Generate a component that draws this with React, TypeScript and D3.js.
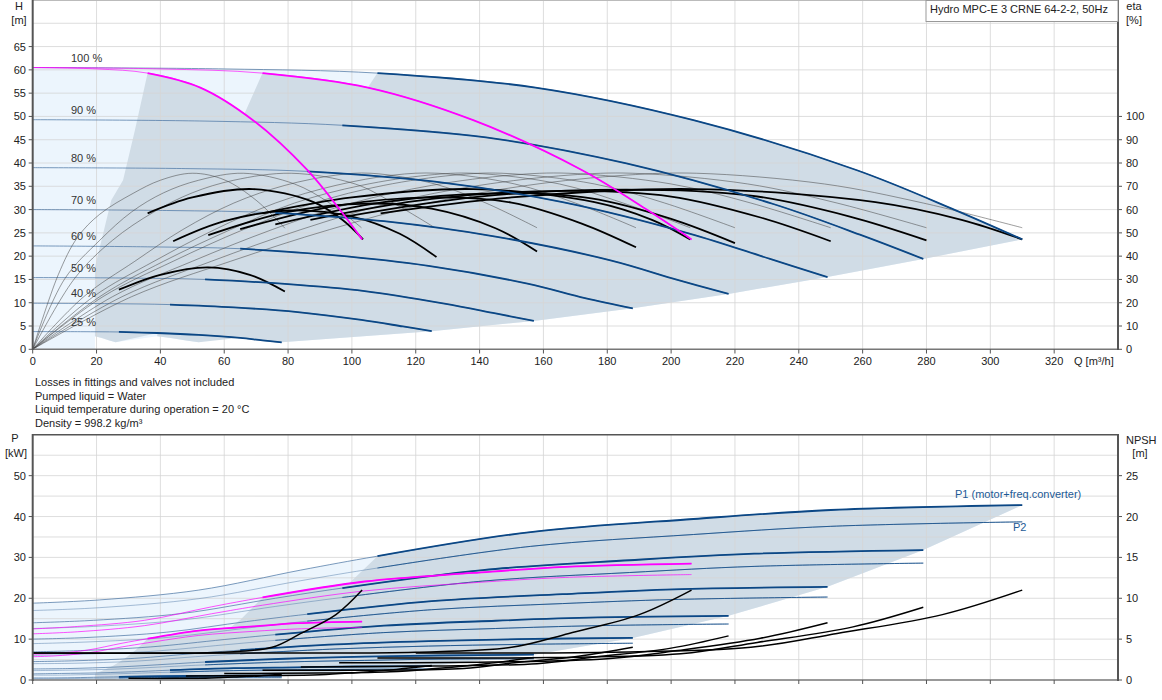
import React from 'react';
import * as d3 from 'd3';

type Pt = [number, number];

// ---------- labels / ticks ----------
const speedLabels = ['100 %', '90 %', '80 %', '70 %', '60 %', '50 %', '40 %', '25 %'];
const shutoffH = [60.5, 49.3, 39, 30, 22.2, 15.4, 9.9, 3.8];
const qMinThree = [108, 97, 86, 76, 65, 54, 43, 27];
const qTicks = [0, 20, 40, 60, 80, 100, 120, 140, 160, 180, 200, 220, 240, 260, 280, 300, 320];
const hTicks = [0, 5, 10, 15, 20, 25, 30, 35, 40, 45, 50, 55, 60, 65];
const etaTicks = [0, 10, 20, 30, 40, 50, 60, 70, 80, 90, 100];
const pTicks = [0, 10, 20, 30, 40, 50];
const npshTicks = [0, 5, 10, 15, 20, 25];
const noteLines = [
  'Losses in fittings and valves not included',
  'Pumped liquid = Water',
  'Liquid temperature during operation = 20 °C',
  'Density = 998.2 kg/m³',
];
const titleText = 'Hydro MPC-E 3 CRNE 64-2-2, 50Hz';

// ---------- QH curves (3 pumps) ----------
const head100: Pt[] = [[0, 60.5], [60, 60.2], [108, 59.3], [157.5, 56.2], [207, 49.2], [258, 38.5], [289, 29.9], [310, 23.6]];
const head90: Pt[] = [[0, 49.3], [54, 49], [97, 48.1], [142, 45.5], [186, 39.9], [232, 31.2], [260, 24.4], [279, 19.4]];
const head80: Pt[] = [[0, 39], [48, 38.8], [86, 38.2], [126, 36], [166, 31.6], [206, 24.8], [231, 19.4], [249, 15.5]];
const head70: Pt[] = [[0, 30], [42, 29.8], [76, 29.3], [110, 27.5], [145, 24.2], [181, 19.1], [202, 14.9], [218, 11.9]];
const head60: Pt[] = [[0, 22.2], [36, 22], [65, 21.6], [94, 20.2], [124, 17.9], [155, 14.1], [173, 11], [188, 8.8]];
const head50: Pt[] = [[0, 15.4], [30, 15.3], [54, 15], [79, 14.05], [104, 12.5], [129, 9.8], [145, 7.7], [157, 6.1]];
const head40: Pt[] = [[0, 9.9], [24, 9.8], [43, 9.6], [63, 9], [83, 8], [103, 6.3], [116, 4.9], [125, 3.9]];
const head25: Pt[] = [[0, 3.8], [15, 3.78], [27, 3.72], [39, 3.5], [52, 3.1], [65, 2.45], [72, 1.9], [78, 1.5]];
const headCurves = [head100, head90, head80, head70, head60, head50, head40, head25];

// 1 and 2 pumps at 100 %
const headOne: Pt[] = [[0, 60.5], [20, 60.2], [36, 59.3], [52.5, 56.2], [69, 49.2], [86, 38.5], [96.3, 29.9], [103.2, 23.6]];
const headTwo: Pt[] = [[0, 60.5], [40, 60.2], [72, 59.3], [105, 56.2], [138, 49.2], [172, 38.5], [192.6, 29.9], [206.4, 23.6]];

// operating area boundaries (H)
const areaOneLeft: Pt[] = [[19.5, 2.8], [19.5, 17.6], [24.6, 32], [28.3, 36.3], [32, 47], [36, 59.3]];
const areaOneRight: Pt[] = [[92.7, 19.1], [82.4, 15.1], [72, 11.6], [61.8, 8.5], [51.5, 5.9], [41.2, 3.8], [26, 1.5], [24, 1.9], [21.7, 2.45]];
const areaTwoLeft: Pt[] = [[39, 2.8], [39, 17.6], [49.2, 32], [56.6, 36.3], [64, 47], [72, 59.3]];
const areaTwoRight: Pt[] = [[185, 19.1], [165, 15.1], [144, 11.6], [124, 8.5], [103, 5.9], [82.4, 3.8], [52, 1.5], [48, 1.9], [43.3, 2.45]];
const areaThreeLeft: Pt[] = [[58.5, 2.95], [58.5, 17.6], [73.8, 32], [85, 36.3], [96, 47], [108, 59.3]];
const areaThreeRight: Pt[] = [[279, 19.4], [249, 15.5], [218, 11.9], [188, 8.8], [157, 6.1], [125, 3.9], [78, 1.5], [72, 1.9], [65, 2.45]];
const areaFullLeft: Pt[] = [[19.5, 0], [0, 0]];
const areaFullRight: Pt[] = [[279, 19.4], [249, 15.5], [218, 11.9], [188, 8.8], [157, 6.1], [125, 3.9], [78, 1.5], [58.5, 2.95], [52, 1.5], [39, 2.8], [26, 1.5], [19.5, 2.8]];

// ---------- efficiency curves (eta %) ----------
const etaThin79: Pt[] = [[0, 0], [8, 32], [14, 48], [21, 58], [31.5, 67], [40, 72.6], [50, 75.6], [60, 72.8], [70, 64], [79, 52]];
const etaThin103: Pt[] = [[0, 0], [10, 30.2], [21, 46.8], [31, 59], [41, 67.2], [52, 72.6], [66, 75.6], [82, 71], [93, 62.8], [103, 52.2]];
const etaThin126: Pt[] = [[0, 0], [13, 30.2], [25, 46.8], [38, 59], [50, 67.2], [63, 72.6], [81, 75.6], [101, 71], [113, 62.8], [126, 52.2]];
const etaThin158: Pt[] = [[0, 0], [16, 22.6], [32, 37.8], [47, 51.4], [63, 62.8], [79, 70.4], [95, 74.8], [106, 75.6], [126, 71], [142, 62.8], [158, 52.2]];
const etaThin189: Pt[] = [[0, 0], [19, 22.6], [38, 37.8], [57, 51.4], [76, 62.8], [95, 70.4], [113, 74.8], [127, 75.6], [151, 71], [170, 62.8], [189, 52.2]];
const etaThin206: Pt[] = [[0, 0], [21, 22.6], [41, 37.8], [62, 51.4], [82, 62.8], [103, 70.4], [124, 74.8], [138, 75.6], [165, 71], [185, 62.8], [206, 52.2]];
const etaThin220: Pt[] = [[0, 0], [22, 22.6], [44, 37.8], [66, 51.4], [88, 62.8], [110, 70.4], [132, 74.8], [147, 75.6], [176, 71], [198, 62.8], [220, 52.2]];
const etaThin250: Pt[] = [[0, 0], [25, 22.6], [50, 37.8], [75, 51.4], [100, 62.8], [125, 70.4], [150, 74.8], [168, 75.6], [200, 71], [225, 62.8], [250, 52.2]];
const etaThin280: Pt[] = [[0, 0], [28, 22.6], [56, 37.8], [84, 51.4], [112, 62.8], [140, 70.4], [168, 74.8], [188, 75.6], [224, 71], [252, 62.8], [280, 52.2]];
const etaThin310: Pt[] = [[0, 0], [31, 22.6], [62, 37.8], [93, 51.4], [124, 62.8], [155, 70.4], [186, 74.8], [208, 75.6], [248, 71], [279, 62.8], [310, 52.2]];
const etaThinCurves = [etaThin79, etaThin103, etaThin126, etaThin158, etaThin189, etaThin206, etaThin220, etaThin250, etaThin280, etaThin310];

const etaBold25: Pt[] = [[27, 25.6], [40, 32], [55, 35.2], [68, 32], [79, 24.8]];
const etaBoldOne: Pt[] = [[36, 58.4], [50, 65.2], [69, 68.8], [88, 63.2], [97, 55.6], [103.5, 47.2]];
const etaBold40: Pt[] = [[44, 46.4], [60, 55], [80, 59.6], [100, 57], [115, 49.6], [126.5, 39.6]];
const etaBold50: Pt[] = [[55, 49], [80, 59], [105, 62.6], [125, 60.4], [145, 52], [158, 42]];
const etaBold60: Pt[] = [[65, 51.6], [95, 61.6], [125, 65.2], [150, 63], [172, 54], [189, 43.8]];
const etaBoldTwo: Pt[] = [[72, 58.4], [100, 65.2], [138, 68.8], [176, 63.2], [194, 55.6], [206, 47.2]];
const etaBold70: Pt[] = [[76, 53.6], [110, 63.2], [145, 67], [175, 64.8], [200, 56], [220, 45.6]];
const etaBold80: Pt[] = [[87, 55.6], [125, 64.6], [166, 68], [200, 65.6], [228, 56.6], [250, 46.4]];
const etaBold90: Pt[] = [[98, 57], [140, 65.6], [186, 68.6], [225, 66], [256, 57], [280, 46.8]];
const etaBold100: Pt[] = [[109, 58.4], [150, 65.2], [207, 68.8], [264, 63.2], [291, 55.6], [310, 47.2]];
const etaBoldCurves = [etaBold25, etaBoldOne, etaBold40, etaBold50, etaBold60, etaBoldTwo, etaBold70, etaBold80, etaBold90, etaBold100];

// ---------- power curves (kW) ----------
const p1_100: Pt[] = [[0, 18.8], [21, 19.6], [52, 22], [84, 26.9], [108, 30.3], [156, 36.2], [207, 39.4], [250, 41.6], [310, 42.8]];
const p1_90: Pt[] = [[0, 14], [19, 14.6], [47, 16.3], [76, 20], [97, 22.5], [141, 26.9], [187, 29.3], [226, 30.9], [279, 31.8]];
const p1_80: Pt[] = [[0, 10], [17, 10.4], [42, 11.7], [67, 14.3], [86, 16.1], [125, 19.3], [166, 21], [201, 22.2], [249, 22.8]];
const p1_70: Pt[] = [[0, 6.9], [15, 7.2], [37, 8.1], [60, 9.9], [76, 11.1], [110, 13.3], [145, 14.5], [177, 15.3], [218, 15.7]];
const p1_60: Pt[] = [[0, 4.5], [13, 4.7], [32, 5.3], [51, 6.5], [65, 7.3], [95, 8.7], [124, 9.5], [152, 10], [188, 10.3]];
const p1_50: Pt[] = [[0, 2.7], [11, 2.8], [27, 3.2], [43, 3.9], [54, 4.4], [79, 5.2], [104, 5.7], [127, 6], [157, 6.2]];
const p1_40: Pt[] = [[0, 1.5], [9, 1.6], [21, 1.75], [34, 2.1], [43, 2.4], [63, 2.9], [83, 3.1], [101, 3.3], [125, 3.4]];
const p1_25: Pt[] = [[0, 0.5], [5, 0.5], [13, 0.57], [21, 0.7], [27, 0.78], [40, 0.93], [52, 1], [64, 1.07], [78, 1.1]];
const p1Curves = [p1_100, p1_90, p1_80, p1_70, p1_60, p1_50, p1_40, p1_25];

const p2_100: Pt[] = [[0, 17], [21, 17.7], [52, 19.9], [84, 24.3], [108, 27.4], [156, 32.7], [207, 35.6], [250, 37.6], [310, 38.7]];
const p2_90: Pt[] = [[0, 12.6], [19, 13.1], [47, 14.7], [76, 18], [97, 20.2], [141, 24.2], [187, 26.3], [226, 27.8], [279, 28.6]];
const p2_80: Pt[] = [[0, 8.9], [17, 9.3], [42, 10.4], [67, 12.7], [86, 14.4], [125, 17.2], [166, 18.7], [201, 19.7], [249, 20.3]];
const p2_70: Pt[] = [[0, 6], [15, 6.3], [37, 7], [60, 8.6], [76, 9.7], [110, 11.6], [145, 12.6], [177, 13.3], [218, 13.7]];
const p2_60: Pt[] = [[0, 4], [13, 4.1], [32, 4.6], [51, 5.7], [65, 6.4], [95, 7.6], [124, 8.3], [152, 8.7], [188, 9]];
const p2_50: Pt[] = [[0, 2.3], [11, 2.4], [27, 2.7], [43, 3.3], [54, 3.7], [79, 4.4], [104, 4.8], [127, 5.1], [157, 5.2]];
const p2_40: Pt[] = [[0, 1.2], [9, 1.2], [21, 1.4], [34, 1.7], [43, 1.9], [63, 2.3], [83, 2.5], [101, 2.6], [125, 2.7]];
const p2_25: Pt[] = [[0, 0.3], [5, 0.3], [13, 0.36], [21, 0.44], [27, 0.5], [40, 0.6], [52, 0.64], [64, 0.68], [78, 0.7]];
const p2Curves = [p2_100, p2_90, p2_80, p2_70, p2_60, p2_50, p2_40, p2_25];

const powerOneP1: Pt[] = [[0, 6.3], [7, 6.5], [17, 7.3], [28, 9], [36, 10.1], [52, 12.1], [69, 13.1], [83, 13.9], [103.2, 14.3]];
const powerOneP2: Pt[] = [[0, 5.7], [7, 5.9], [17, 6.6], [28, 8.1], [36, 9.1], [52, 10.9], [69, 11.9], [83, 12.5], [103.2, 12.9]];
const powerTwoP1: Pt[] = [[0, 12.5], [14, 13.1], [35, 14.6], [56, 17.9], [72, 20.2], [104, 24.1], [138, 26.2], [167, 27.7], [206.4, 28.5]];
const powerTwoP2: Pt[] = [[0, 11.3], [14, 11.8], [35, 13.3], [56, 16.2], [72, 18.3], [104, 21.8], [138, 23.8], [167, 25.1], [206.4, 25.8]];

const powAreaOneLeft: Pt[] = [[19.5, 0], [19.5, 1.6], [21.6, 2.2], [25.2, 3.5], [28.8, 5.2], [32.4, 7.4], [36, 10.1]];
const powAreaOneRight: Pt[] = [[92.7, 10.4], [82.4, 7.3], [72, 4.9], [61.8, 3.1], [51.5, 1.8], [41.2, 0.9], [26, 0.2], [26, 0]];
const powAreaTwoLeft: Pt[] = [[39, 0], [39, 3.2], [43.2, 4.4], [50.4, 6.9], [57.6, 10.3], [65, 14.7], [72, 20.2]];
const powAreaTwoRight: Pt[] = [[185, 20.8], [165, 14.6], [144, 9.8], [124, 6.2], [103, 3.6], [82.4, 1.8], [52, 0.45], [52, 0]];
const powAreaThreeLeft: Pt[] = [[58.5, 0], [58.5, 4.8], [64.8, 6.5], [75.6, 10.4], [86.4, 15.5], [97, 22.1], [108, 30.3]];
const powAreaThreeRight: Pt[] = [[279, 31.8], [249, 22.8], [218, 15.7], [188, 10.3], [157, 6.2], [125, 3.4], [78, 1.1], [78, 0]];
const powAreaFullLeft: Pt[] = [[78, 0], [0, 0]];
const powAreaFullRight: Pt[] = [[279, 31.8], [249, 22.8], [218, 15.7], [188, 10.3], [157, 6.2], [125, 3.4], [78, 1.1]];

// ---------- NPSH (m) ----------
const npshOne: Pt[] = [[0, 3.3], [40, 3.3], [60, 3.4], [75, 4], [84, 5.7], [95, 8], [103.2, 11]];
const npshTwo: Pt[] = [[0, 3.3], [80, 3.3], [120, 3.4], [150, 4], [168, 5.7], [190, 8], [206.4, 11]];
const npsh100: Pt[] = [[0, 3.3], [120, 3.3], [180, 3.4], [225, 4], [252, 5.7], [285, 8], [310, 11]];
const npsh90: Pt[] = [[0, 2.7], [108, 2.7], [162, 2.75], [203, 3.2], [227, 4.6], [257, 6.5], [279, 8.9]];
const npsh80: Pt[] = [[0, 2.1], [96, 2.1], [144, 2.2], [180, 2.6], [202, 3.6], [228, 5.1], [249, 7]];
const npsh70: Pt[] = [[0, 1.6], [84, 1.6], [126, 1.7], [158, 2], [176, 2.8], [200, 3.9], [218, 5.4]];
const npsh60: Pt[] = [[0, 1.2], [72, 1.2], [108, 1.2], [135, 1.4], [151, 2.1], [171, 2.9], [188, 4]];
const npsh50: Pt[] = [[0, 0.8], [60, 0.8], [90, 0.85], [112, 1], [126, 1.4], [142, 2], [157, 2.75]];
const npsh40: Pt[] = [[0, 0.5], [48, 0.5], [72, 0.55], [90, 0.64], [101, 0.9], [114, 1.3], [125, 1.76]];
const npsh25: Pt[] = [[0, 0.2], [30, 0.2], [45, 0.2], [56, 0.25], [63, 0.36], [71, 0.5], [78, 0.7]];
const npshCurves = [npsh100, npsh90, npsh80, npsh70, npsh60, npsh50, npsh40, npsh25];

// ---------- scales ----------
const W = 1162, Hh = 700;
const X0 = 32.7, X1 = 1118;
const x = d3.scaleLinear().domain([0, 340]).range([X0, X1]);
const yH = d3.scaleLinear().domain([0, 75]).range([349.3, 0]);
const yE = d3.scaleLinear().domain([0, 150]).range([349.3, 0]);
const yP = d3.scaleLinear().domain([0, 60]).range([680, 434.8]);
const yN = d3.scaleLinear().domain([0, 30]).range([680, 434.8]);

const FONT = 'Liberation Sans, Arial, Helvetica, sans-serif';
const DARK_BLUE = '#0b4785';
const THIN_BLUE = '#4f78a6';
const MAGENTA = '#ff00ff';
const AREA_DARK = '#d0dce6';
const AREA_LIGHT = '#ecf5fd';
const GRID = '#d6d6d6';

const curveGen = (ys: d3.ScaleLinear<number, number>) =>
  d3.line<Pt>().x(d => x(d[0])).y(d => ys(d[1])).curve(d3.curveCatmullRom.alpha(0.5));
const linGen = (ys: d3.ScaleLinear<number, number>) =>
  d3.line<Pt>().x(d => x(d[0])).y(d => ys(d[1]));

const area = (ys: d3.ScaleLinear<number, number>, left: Pt[], top: Pt[], right: Pt[]) => {
  const l = linGen(ys)(left) as string;
  const t = (curveGen(ys)(top) as string).replace(/^M/, 'L');
  const r = (linGen(ys)(right) as string).replace(/^M/, 'L');
  return l + t + r + 'Z';
};
const from = (pts: Pt[], q: number) => pts.filter(p => p[0] >= q - 0.01);

export default function App() {
  const lH = curveGen(yH);
  const lE = curveGen(yE);
  const lP = curveGen(yP);
  const lN = curveGen(yN);
  const txt = { fontFamily: FONT, fontSize: 11, fill: '#222' } as const;

  return (
    <svg width={W} height={Hh} style={{ position: 'absolute', left: 0, top: 0, background: '#fff' }}>
      <defs>
        <clipPath id="clipTop"><rect x={X0} y={0} width={X1 - X0} height={349.3} /></clipPath>
        <clipPath id="clipBot"><rect x={X0} y={434.8} width={X1 - X0} height={680 - 434.8} /></clipPath>
      </defs>

      {/* ================= TOP CHART ================= */}
      <g clipPath="url(#clipTop)">
        <path d={area(yH, areaFullLeft, head100, areaFullRight)} fill={AREA_LIGHT} />
        <path d={area(yH, areaOneLeft, from(headOne, 36), areaOneRight)} fill={AREA_DARK} />
        <path d={area(yH, areaTwoLeft, from(headTwo, 72), areaTwoRight)} fill={AREA_DARK} />
        <path d={area(yH, areaThreeLeft, from(head100, 108), areaThreeRight)} fill={AREA_DARK} />
        {qTicks.slice(1).map(q => (
          <line key={'gv' + q} x1={x(q)} x2={x(q)} y1={0} y2={349.3} stroke={GRID} strokeWidth={1} opacity={0.8} />
        ))}
        {[5, 10, 15, 20, 25, 30, 35, 40, 45, 50, 55, 60, 65, 70].map(h => (
          <line key={'gh' + h} x1={X0} x2={X1} y1={yH(h)} y2={yH(h)} stroke={GRID} strokeWidth={1} opacity={0.8} />
        ))}
        {headCurves.map((c, i) => (
          <path key={'ht' + i} d={lH(c) as string} fill="none" stroke={THIN_BLUE} strokeWidth={1} opacity={0.75} />
        ))}
        {etaThinCurves.map((c, i) => (
          <path key={'et' + i} d={lE(c) as string} fill="none" stroke="#444" strokeWidth={0.7} opacity={0.75} />
        ))}
        {etaBoldCurves.map((c, i) => (
          <path key={'eb' + i} d={lE(c) as string} fill="none" stroke="#000" strokeWidth={1.8} />
        ))}
        {headCurves.map((c, i) => (
          <path key={'hb' + i} d={lH(from(c, qMinThree[i])) as string} fill="none" stroke={DARK_BLUE} strokeWidth={1.8} />
        ))}
        <path d={lH(headOne) as string} fill="none" stroke={MAGENTA} strokeWidth={0.8} opacity={0.8} />
        <path d={lH(headTwo) as string} fill="none" stroke={MAGENTA} strokeWidth={0.8} opacity={0.8} />
        <path d={lH(from(headOne, 36)) as string} fill="none" stroke={MAGENTA} strokeWidth={1.8} />
        <path d={lH(from(headTwo, 72)) as string} fill="none" stroke={MAGENTA} strokeWidth={1.8} />
      </g>
      {speedLabels.map((s, i) => (
        <text key={'sl' + i} x={71} y={yH(shutoffH[i]) - 6} {...txt} fill="#333">{s}</text>
      ))}
      {/* top frame */}
      <line x1={X0} x2={X1} y1={0.5} y2={0.5} stroke="#bbb" />
      <line x1={X0} x2={X1} y1={349.3} y2={349.3} stroke="#777" strokeWidth={1.5} />
      <line x1={X0} x2={X0} y1={0} y2={350} stroke="#555" strokeWidth={2} />
      <line x1={X1} x2={X1} y1={0} y2={350} stroke="#555" strokeWidth={2} />
      {qTicks.map(q => (
        <g key={'qt' + q}>
          <line x1={x(q)} x2={x(q)} y1={349.3} y2={353.5} stroke="#555" />
          <text x={x(q)} y={365} textAnchor="middle" {...txt}>{q}</text>
        </g>
      ))}
      <text x={1074} y={365} {...txt}>Q [m³/h]</text>
      {hTicks.map(h => (
        <g key={'ht' + h}>
          <line x1={X0 - 4} x2={X0} y1={yH(h)} y2={yH(h)} stroke="#555" />
          <text x={26} y={yH(h) + 4} textAnchor="end" {...txt}>{h}</text>
        </g>
      ))}
      {etaTicks.map(e => (
        <g key={'eta' + e}>
          <line x1={X1} x2={X1 + 4} y1={yE(e)} y2={yE(e)} stroke="#555" />
          <text x={1126} y={yE(e) + 4} {...txt}>{e}</text>
        </g>
      ))}
      <text x={19} y={10} textAnchor="middle" {...txt}>H</text>
      <text x={19} y={24} textAnchor="middle" {...txt}>[m]</text>
      <text x={1134} y={10} textAnchor="middle" {...txt}>eta</text>
      <text x={1134} y={24} textAnchor="middle" {...txt}>[%]</text>
      <rect x={926} y={0.5} width={192} height={21} fill="#fff" stroke="#999" strokeWidth={1} />
      <text x={930} y={13} {...txt}>{titleText}</text>

      {/* notes */}
      {noteLines.map((t, i) => (
        <text key={'n' + i} x={35} y={386 + i * 13.6} {...txt}>{t}</text>
      ))}

      {/* ================= BOTTOM CHART ================= */}
      <g clipPath="url(#clipBot)">
        <path d={area(yP, powAreaFullLeft, p1_100, powAreaFullRight)} fill={AREA_LIGHT} />
        <path d={area(yP, powAreaOneLeft, from(powerOneP1, 36), powAreaOneRight)} fill={AREA_DARK} />
        <path d={area(yP, powAreaTwoLeft, from(powerTwoP1, 72), powAreaTwoRight)} fill={AREA_DARK} />
        <path d={area(yP, powAreaThreeLeft, from(p1_100, 108), powAreaThreeRight)} fill={AREA_DARK} />
        {qTicks.slice(1).map(q => (
          <line key={'bgv' + q} x1={x(q)} x2={x(q)} y1={434.8} y2={680} stroke={GRID} opacity={0.8} />
        ))}
        {[5, 10, 15, 20, 25, 30, 35, 40, 45, 50, 55].map(p => (
          <line key={'bgh' + p} x1={X0} x2={X1} y1={yP(p)} y2={yP(p)} stroke={GRID} opacity={0.8} />
        ))}
        {p1Curves.map((c, i) => (
          <path key={'p1t' + i} d={lP(c) as string} fill="none" stroke={THIN_BLUE} strokeWidth={1} opacity={0.75} />
        ))}
        {p2Curves.map((c, i) => (
          <path key={'p2t' + i} d={lP(c) as string} fill="none" stroke={THIN_BLUE} strokeWidth={0.8} opacity={0.6} />
        ))}
        {p2Curves.map((c, i) => (
          <path key={'p2b' + i} d={lP(from(c, qMinThree[i])) as string} fill="none" stroke={DARK_BLUE} strokeWidth={1} opacity={0.8} />
        ))}
        {p1Curves.map((c, i) => (
          <path key={'p1b' + i} d={lP(from(c, qMinThree[i])) as string} fill="none" stroke={DARK_BLUE} strokeWidth={1.8} />
        ))}
        <path d={lP(powerOneP2) as string} fill="none" stroke={MAGENTA} strokeWidth={0.8} opacity={0.85} />
        <path d={lP(powerTwoP2) as string} fill="none" stroke={MAGENTA} strokeWidth={0.8} opacity={0.85} />
        <path d={lP(powerOneP1) as string} fill="none" stroke={MAGENTA} strokeWidth={0.8} opacity={0.85} />
        <path d={lP(powerTwoP1) as string} fill="none" stroke={MAGENTA} strokeWidth={0.8} opacity={0.85} />
        <path d={lP(from(powerOneP1, 36)) as string} fill="none" stroke={MAGENTA} strokeWidth={1.8} />
        <path d={lP(from(powerTwoP1, 72)) as string} fill="none" stroke={MAGENTA} strokeWidth={1.8} />
        {npshCurves.map((c, i) => (
          <path key={'np' + i} d={lN(from(c, qMinThree[i])) as string} fill="none" stroke="#000" strokeWidth={1.5} />
        ))}
        <path d={lN(npshOne) as string} fill="none" stroke="#000" strokeWidth={1.5} />
        <path d={lN(npshTwo) as string} fill="none" stroke="#000" strokeWidth={1.5} />
      </g>
      <line x1={X0} x2={X1} y1={434.8} y2={434.8} stroke="#555" strokeWidth={1.5} />
      <line x1={X0} x2={X1} y1={680} y2={680} stroke="#777" strokeWidth={1.5} />
      <line x1={X0} x2={X0} y1={434} y2={681} stroke="#555" strokeWidth={2} />
      <line x1={X1} x2={X1} y1={434} y2={681} stroke="#555" strokeWidth={2} />
      {qTicks.map(q => (
        <line key={'bqt' + q} x1={x(q)} x2={x(q)} y1={680} y2={684} stroke="#555" />
      ))}
      {pTicks.map(p => (
        <g key={'pt' + p}>
          <line x1={X0 - 4} x2={X0} y1={yP(p)} y2={yP(p)} stroke="#555" />
          <text x={26} y={yP(p) + 4} textAnchor="end" {...txt}>{p}</text>
        </g>
      ))}
      {npshTicks.map(n => (
        <g key={'nt' + n}>
          <line x1={X1} x2={X1 + 4} y1={yN(n)} y2={yN(n)} stroke="#555" />
          <text x={1126} y={yN(n) + 4} {...txt}>{n}</text>
        </g>
      ))}
      <text x={15} y={442} textAnchor="middle" {...txt}>P</text>
      <text x={16} y={457} textAnchor="middle" {...txt}>[kW]</text>
      <text x={1126} y={444} {...txt}>NPSH</text>
      <text x={1140} y={457} textAnchor="middle" {...txt}>[m]</text>
      <text x={955} y={498} {...txt} fill="#1d5a96">P1 (motor+freq.converter)</text>
      <text x={1013} y={531} {...txt} fill="#1d5a96">P2</text>
    </svg>
  );
}
